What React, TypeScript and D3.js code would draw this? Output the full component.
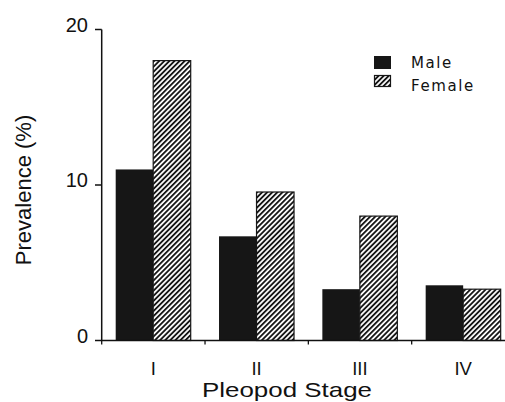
import React from "react";
import * as d3 from "d3";

const stages = ["I", "II", "III", "IV"];
const series = ["Male", "Female"];
const maleValues = [11.0, 6.7, 3.3, 3.55];
const femaleValues = [18.0, 9.55, 8.0, 3.3];
const yTicks = [0, 10, 20];

export default function App() {
  const W = 505, H = 402;
  const x = d3.scaleBand<string>().domain(stages).range([101.7, 515]).padding(0);
  const inner = d3.scaleBand<string>().domain(series).range([14, 89]).padding(0);
  const y = d3.scaleLinear().domain([0, 20]).range([340.5, 29.5]);
  const font = "'Liberation Sans', Arial, Helvetica, sans-serif";
  const boundaries = stages.map((s) => x(s) as number);

  return (
    <svg width={W} height={H} style={{ position: "absolute", left: 0, top: 0, background: "#fff" }}>
      <defs>
        <pattern id="hatch" patternUnits="userSpaceOnUse" width="3.6" height="3.6" patternTransform="rotate(45)">
          <rect x="0" y="0" width="3.6" height="3.6" fill="#fff" />
          <line x1="0.9" y1="0" x2="0.9" y2="3.6" stroke="#161616" strokeWidth="1.9" />
        </pattern>
      </defs>
      <rect width={W} height={H} fill="#fff" />
      {stages.map((s, i) => {
        const x0 = x(s) as number;
        return (
          <g key={s}>
            <rect x={x0 + (inner("Male") as number)} y={y(maleValues[i])} width={inner.bandwidth()}
              height={y(0) - y(maleValues[i])} fill="#161616" />
            <rect x={x0 + (inner("Female") as number)} y={y(femaleValues[i])} width={inner.bandwidth()}
              height={y(0) - y(femaleValues[i])} fill="url(#hatch)" stroke="#161616" strokeWidth={1.2} />
          </g>
        );
      })}
      <line x1={101.7} x2={101.7} y1={y(20)} y2={y(0)} stroke="#111" strokeWidth={1.5} />
      {yTicks.map((t) => (
        <g key={t}>
          <line x1={95} x2={101.7} y1={y(t)} y2={y(t)} stroke="#111" strokeWidth={1.5} />
          <text x={88} y={y(t) + 2} textAnchor="end" fontFamily={font} fontSize={20} fill="#111">{t}</text>
        </g>
      ))}
      <line x1={101} x2={W} y1={y(0)} y2={y(0)} stroke="#111" strokeWidth={1.5} />
      {boundaries.map((b, i) => (
        <line key={i} x1={b} x2={b} y1={y(0)} y2={y(0) + 4} stroke="#111" strokeWidth={1.3} />
      ))}
      {stages.map((s) => (
        <text key={s} x={(x(s) as number) + 14 + 37.5} y={375} textAnchor="middle" fontFamily={font} fontSize={18.5} fill="#111">{s}</text>
      ))}
      <text x={287} y={396.5} textAnchor="middle" fontFamily={font} fontSize={21} fill="#111"
        textLength={170} lengthAdjust="spacingAndGlyphs">Pleopod Stage</text>
      <text transform="translate(31,190) rotate(-90)" textAnchor="middle" fontFamily={font} fontSize={22} fill="#111">Prevalence (%)</text>
      <rect x={374} y={56} width={17} height={13} fill="#161616" />
      <text x={411} y={68} fontFamily="'DejaVu Sans', sans-serif" fontSize={15} letterSpacing={1.6} fill="#111">Male</text>
      <rect x={374.5} y={75.5} width={16} height={11} fill="url(#hatch)" stroke="#161616" strokeWidth={1.2} />
      <text x={411} y={91} fontFamily="'DejaVu Sans', sans-serif" fontSize={15} letterSpacing={1.6} fill="#111">Female</text>
    </svg>
  );
}
